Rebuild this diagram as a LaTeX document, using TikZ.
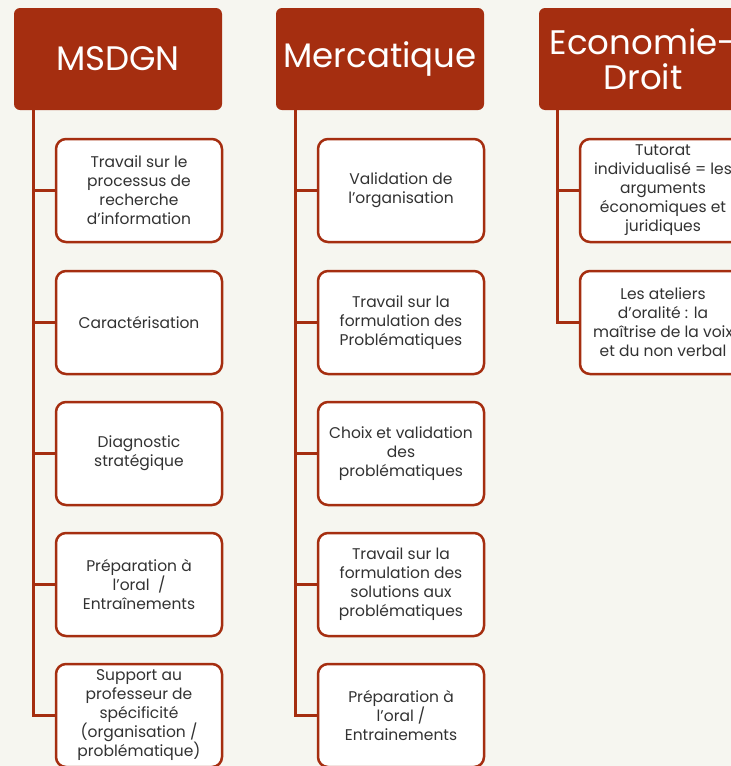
\documentclass[tikz,border=0pt]{standalone}
\usepackage{fontspec}
\setmainfont{Poppins}
\usetikzlibrary{positioning}
\definecolor{rouille}{RGB}{165,46,16}
\definecolor{fond}{RGB}{246,246,240}
\definecolor{encre}{RGB}{50,50,50}

\begin{document}
\begin{tikzpicture}[x=1pt,y=-1pt]
  \tikzset{matiere/.style = {shape=rectangle,rounded corners=6pt,fill=rouille,text=white,minimum width=208pt,minimum height=102pt,font=\fontsize{34}{35}\selectfont,align=center,inner sep=0pt}}
  \tikzset{activite/.style = {shape=rectangle,rounded corners=10pt,draw=rouille,line width=2.5pt,fill=white,minimum width=166pt,minimum height=103pt,font=\fontsize{15.5}{19}\selectfont,text=encre,align=center,inner sep=0pt}}
  \tikzset{lien/.style = {draw=rouille,line width=3pt}}

  \fill[fond] (0,0) rectangle (731,766);
  \useasboundingbox (0,0) rectangle (731,766);
  \clip (0,0) rectangle (731,766);

  % en-tetes
	\node[matiere] (M1) at (118,59) {MSDGN};
	\node[matiere] (M2) at (380,59) {Mercatique};
	\node[matiere] (M3) at (643,59) {Economie-\\Droit};

  % MSDGN
	\node[activite] (A1) at (139,190.5) {Travail sur le\\processus de\\recherche\\d’information};
	\node[activite] (A2) at (139,322.5) {Caractérisation};
	\node[activite] (A3) at (139,453.5) {Diagnostic\\stratégique};
	\node[activite] (A4) at (139,584.5) {Préparation à\\l’oral~ /\\Entraînements};
	\node[activite] (A5) at (139,715.5) {Support au\\professeur de\\spécificité\\(organisation /\\problématique)};

  % Mercatique
	\node[activite] (B1) at (401,190.5) {Validation de\\l’organisation};
	\node[activite] (B2) at (401,322.5) {Travail sur la\\formulation des\\Problématiques};
	\node[activite] (B3) at (401,453.5) {Choix et validation\\des\\problématiques};
	\node[activite] (B4) at (401,584.5) {Travail sur la\\formulation des\\solutions aux\\problématiques};
	\node[activite] (B5) at (401,715.5) {Préparation à\\l’oral /\\Entrainements};

  % Economie-Droit
	\node[activite] (C1) at (663,190.5) {Tutorat\\individualisé = les\\arguments\\économiques et\\juridiques};
	\node[activite] (C2) at (663,322.5) {Les ateliers\\d’oralité : la\\maîtrise de la voix\\et du non verbal};

	\coordinate (TA) at ([xshift=20pt]M1.south west);
	\coordinate (TB) at ([xshift=20pt]M2.south west);
	\coordinate (TC) at ([xshift=19pt]M3.south west);

       \foreach \from/\to in {TA/A1, TA/A2, TA/A3, TA/A4, TA/A5, TB/B1, TB/B2, TB/B3, TB/B4, TB/B5, TC/C1, TC/C2}
    \draw[lien] (\from) |- (\to.west);
\end{tikzpicture}
\end{document}
